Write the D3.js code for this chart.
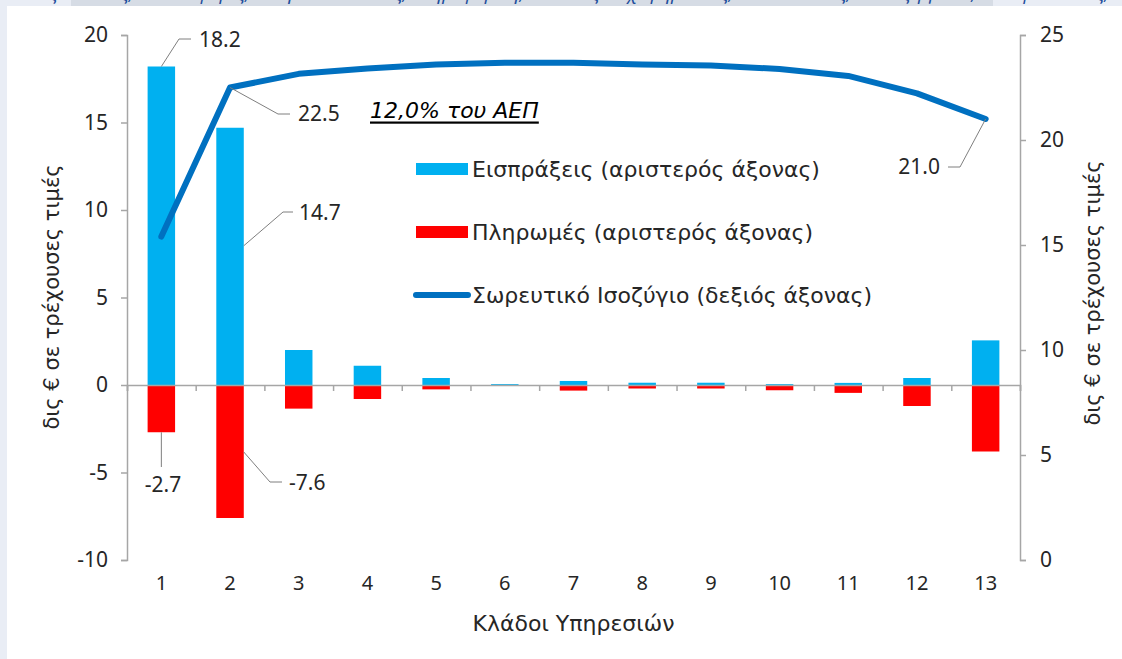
<!DOCTYPE html>
<html>
<head>
<meta charset="utf-8">
<script src="https://cdn.jsdelivr.net/npm/d3@7"></script>
<style>
  html, body { margin: 0; padding: 0; background: #e9edf5; }
  svg { display: block; }
  text { font-family: "Noto Sans", "DejaVu Sans", sans-serif; fill: #262626; }
  .wide { font-family: "DejaVu Sans", "Noto Sans", sans-serif; }
</style>
</head>
<body>
<svg id="chart" width="1122" height="659"></svg>
<script>
// Service branches on the x axis
const categories = ["1", "2", "3", "4", "5", "6", "7", "8", "9", "10", "11", "12", "13"];
// Receipts and payments, bn € at current prices (left axis)
const receipts = [18.2, 14.7, 2.0, 1.1, 0.4, 0.05, 0.23, 0.13, 0.13, 0.05, 0.12, 0.4, 2.55];
const payments = [-2.7, -7.6, -1.35, -0.8, -0.25, -0.03, -0.32, -0.2, -0.2, -0.3, -0.45, -1.2, -3.8];
// Cumulative balance, bn € (right axis)
const cumulative = [15.4, 22.5, 23.15, 23.4, 23.6, 23.68, 23.68, 23.6, 23.55, 23.38, 23.05, 22.22, 21.0];
// Axis ticks
const leftTicks = [-10, -5, 0, 5, 10, 15, 20];
const rightTicks = [0, 5, 10, 15, 20, 25];
// Legend entries
const legendLabels = ["Εισπράξεις (αριστερός άξονας)", "Πληρωμές (αριστερός άξονας)", "Σωρευτικό Ισοζύγιο (δεξιός άξονας)"];
const caption = "1: Ταξιδιωτικές, 2: Μεταφορές, 3: Τηλεπικοινωνίες, πληροφορική, 4: Λοιπές επιχειρηματικές, 5: Κατασκευές, 6: Επεξεργασία, 7: Ασφαλιστικές, 8: Χρηματοπιστωτικές, 9: Προσωπικές";

const COL_REC = "#00b0f0", COL_PAY = "#ff0000", COL_LINE = "#0070c0", COL_AXIS = "#a6a6a6";

const svg = d3.select("#chart");

// page frame: pale border strip and white panel
svg.append("rect").attr("x", 71).attr("y", 0).attr("width", 922).attr("height", 6).attr("fill", "#d6dce5");
svg.append("clipPath").attr("id", "capclip").append("rect").attr("x", 0).attr("y", 0).attr("width", 1122).attr("height", 6);
svg.append("text").attr("clip-path", "url(#capclip)")
  .attr("x", 12).attr("y", 0)
  .style("font-style", "italic").style("font-size", "18px").style("fill", "#1f4e9c")
  .text(caption);
svg.append("rect").attr("x", 7).attr("y", 6).attr("width", 1115).attr("height", 653).attr("fill", "#ffffff");

const plotL = 127, plotR = 1020, plotT = 35, plotB = 560;

const x = d3.scaleBand().domain(categories).range([plotL, plotR]).padding(0);
const yL = d3.scaleLinear().domain([-10, 20]).range([plotB, plotT]);
const yR = d3.scaleLinear().domain([0, 25]).range([plotB, plotT]);
const barW = x.bandwidth() * 0.4;
const barX = c => x(c) + (x.bandwidth() - barW) / 2;
const cx = c => x(c) + x.bandwidth() / 2;

// bars
svg.append("g").selectAll("rect").data(categories).join("rect")
  .attr("x", barX).attr("width", barW)
  .attr("y", (c, i) => yL(receipts[i])).attr("height", (c, i) => yL(0) - yL(receipts[i]))
  .attr("fill", COL_REC);
svg.append("g").selectAll("rect").data(categories).join("rect")
  .attr("x", barX).attr("width", barW)
  .attr("y", yL(0)).attr("height", (c, i) => yL(payments[i]) - yL(0))
  .attr("fill", COL_PAY);

// zero line with category separators, drawn over the bars
const sep = d3.scaleLinear().domain([0, categories.length]).range([plotL, plotR]);
const zeroAxis = svg.append("g").attr("transform", `translate(0,${yL(0)})`)
  .call(d3.axisBottom(sep).tickValues(d3.range(0, categories.length + 1)).tickSize(6).tickFormat(""));
zeroAxis.select(".domain").attr("stroke", COL_AXIS).attr("stroke-width", 1.5);
zeroAxis.selectAll(".tick line").attr("stroke", COL_AXIS).attr("stroke-width", 1.5);

// left axis
const gL = svg.append("g").attr("transform", `translate(${plotL},0)`)
  .call(d3.axisLeft(yL).tickValues(leftTicks).tickSize(6).tickPadding(13).tickFormat(d => String(d)));
// right axis
const gR = svg.append("g").attr("transform", `translate(${plotR},0)`)
  .call(d3.axisRight(yR).tickValues(rightTicks).tickSize(6).tickPadding(14).tickFormat(d => String(d)));
[gL, gR].forEach(g => {
  g.select(".domain").attr("stroke", COL_AXIS).attr("stroke-width", 1.5);
  g.selectAll(".tick line").attr("stroke", COL_AXIS).attr("stroke-width", 1.5);
  g.selectAll(".tick text").style("font-size", "21px").attr("fill", "#262626").attr("font-family", null);
});

// category labels
const gX = svg.append("g").attr("transform", `translate(0,${plotB + 16})`)
  .call(d3.axisBottom(x).tickSize(0).tickPadding(0));
gX.select(".domain").remove();
gX.selectAll(".tick text").style("font-size", "20px").attr("fill", "#262626").attr("font-family", null);

// axis titles
svg.append("text").attr("class", "wide").attr("transform", `translate(${(plotL + plotR) / 2},623)`)
  .attr("text-anchor", "middle").attr("dominant-baseline", "central")
  .style("font-size", "22px").text("Κλάδοι Υπηρεσιών");
svg.append("text").attr("class", "wide").attr("transform", "translate(52,297) rotate(-90)")
  .attr("text-anchor", "middle").attr("dominant-baseline", "central")
  .style("font-size", "21px").text("δις € σε τρέχουσες τιμές");
svg.append("text").attr("class", "wide").attr("transform", "translate(1093,293) rotate(-90)")
  .attr("text-anchor", "middle").attr("dominant-baseline", "central")
  .style("font-size", "21px").text("δις € σε τρέχουσες τιμές");

// cumulative balance line
const line = d3.line().x(c => cx(c)).y((c, i) => yR(cumulative[i]));
svg.append("path").datum(categories).attr("d", line)
  .attr("fill", "none").attr("stroke", COL_LINE).attr("stroke-width", 6)
  .attr("stroke-linejoin", "round").attr("stroke-linecap", "round");

// data labels with leader lines
const lastC = categories[categories.length - 1];
const labels = [
  { v: receipts[0], ax: cx(categories[0]), ay: yL(receipts[0]), path: [[179, 39], [191, 39]], tx: 199, ty: 39, anchor: "start" },
  { v: cumulative[1], ax: cx(categories[1]), ay: yR(cumulative[1]), path: [[278, 114], [290, 114]], tx: 298, ty: 113, anchor: "start" },
  { v: receipts[1], ax: barX(categories[1]) + barW, ay: yL(receipts[1]) + 118, path: [[283, 212], [293, 212]], tx: 299, ty: 212, anchor: "start" },
  { v: payments[0], ax: cx(categories[0]), ay: yL(payments[0]), path: [[cx(categories[0]), 467]], tx: 163, ty: 484, anchor: "middle" },
  { v: payments[1], ax: barX(categories[1]) + barW, ay: yL(payments[1]) - 66, path: [[270, 482], [282, 482]], tx: 289, ty: 482, anchor: "start" },
  { v: cumulative[12], ax: cx(lastC), ay: yR(cumulative[12]), path: [[960, 167], [948, 167]], tx: 940, ty: 166, anchor: "end" }
];
labels.forEach(l => {
  const pts = [[l.ax, l.ay]].concat(l.path);
  svg.append("path").attr("d", d3.line()(pts)).attr("fill", "none")
    .attr("stroke", "#7f7f7f").attr("stroke-width", 1);
  svg.append("text").attr("x", l.tx).attr("y", l.ty)
    .attr("text-anchor", l.anchor).attr("dominant-baseline", "central")
    .style("font-size", "21px").text(d3.format(".1f")(l.v).replace("−", "-"));
});

// GDP note
svg.append("text").attr("class", "wide").attr("x", 370).attr("y", 110).attr("dominant-baseline", "central")
  .style("font-size", "22px").style("font-style", "italic").style("text-decoration", "underline")
  .style("fill", "#000").text("12,0% του ΑΕΠ");

// legend
const lg = svg.append("g");
const ly = [169, 232, 295];
lg.append("rect").attr("x", 416).attr("y", ly[0] - 6).attr("width", 52).attr("height", 12).attr("fill", COL_REC);
lg.append("rect").attr("x", 416).attr("y", ly[1] - 6).attr("width", 52).attr("height", 12).attr("fill", COL_PAY);
lg.append("line").attr("x1", 416).attr("x2", 468).attr("y1", ly[2]).attr("y2", ly[2])
  .attr("stroke", COL_LINE).attr("stroke-width", 6).attr("stroke-linecap", "round");
lg.selectAll("text").data(legendLabels).join("text")
  .attr("class", "wide")
  .attr("x", 472).attr("y", (d, i) => ly[i]).attr("dominant-baseline", "central")
  .style("font-size", "22px").text(d => d);
</script>
</body>
</html>
